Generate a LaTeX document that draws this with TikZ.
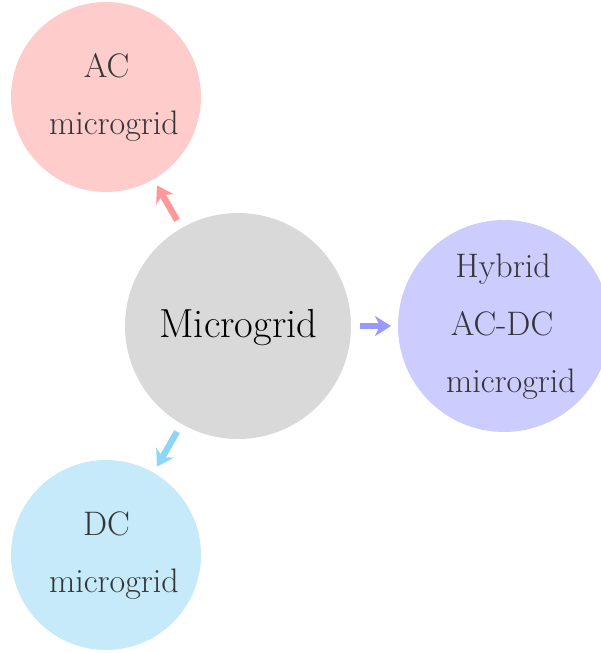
\documentclass[tikz,border=0pt]{standalone}
\usetikzlibrary{arrows.meta}
\definecolor{dcfill}{HTML}{C6EAF9}
\definecolor{dcarrow}{HTML}{8DD6F5}
\definecolor{txt}{HTML}{353535}
\begin{document}
\begin{tikzpicture}[x=0.5pt,y=-0.5pt,
  bubble/.style={circle,inner sep=0pt,outer sep=0pt,draw=none},
  lbl/.style={inner sep=0pt,text=txt,font=\fontsize{17}{20}\selectfont,anchor=base},
  conn/.style={line width=3.2pt,shorten <=4.5pt,shorten >=3.5pt,
    -{Stealth[length=8pt,width=10pt,inset=2.5pt]}}]
\useasboundingbox (0,0) rectangle (600,653);
\node[bubble,fill=black!15,minimum size=113pt] (m) at (238,326) {};
\node[bubble,fill=red!20,minimum size=95pt] (ac) at (106,97) {};
\node[bubble,fill=blue!20,minimum size=106pt] (hy) at (504,326) {};
\node[bubble,fill=dcfill,minimum size=95pt] (dc) at (106,555) {};
\node[inner sep=0pt,anchor=base,font=\fontsize{20.3}{24}\selectfont] (mt) at (238.5,337) {Microgrid};
\node[lbl] (ac1) at (106.5,77) {AC};
\node[lbl] (ac2) at (114,134) {microgrid};
\node[lbl] (hy1) at (503,277) {Hybrid};
\node[lbl] (hy2) at (502,335) {AC-DC};
\node[lbl] (hy3) at (511,392) {microgrid};
\node[lbl] (dc1) at (106.5,535) {DC};
\node[lbl] (dc2) at (114,592) {microgrid};
\draw[conn,draw=red!40] (m) -- (ac);
\draw[conn,draw=blue!40] (m) -- (hy);
\draw[conn,draw=dcarrow] (m) -- (dc);
\end{tikzpicture}
\end{document}
